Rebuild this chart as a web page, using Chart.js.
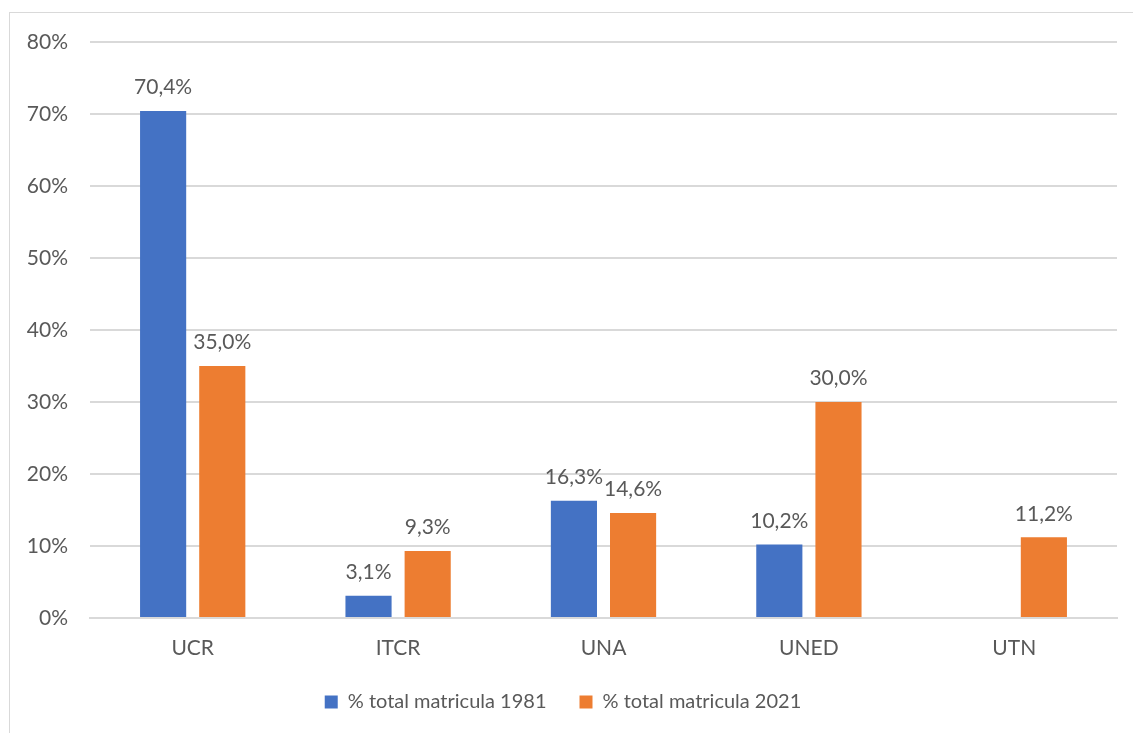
<!DOCTYPE html>
<html>
<head>
<meta charset="utf-8">
<script src="https://cdn.jsdelivr.net/npm/chart.js@4/dist/chart.umd.min.js"></script>
<style>
    html, body { margin: 0; padding: 0; background: #fff; }
    #wrap { position: relative; width: 1133px; height: 733px; overflow: hidden; }
    #frame { position: absolute; left: 9px; top: 12px; width: 1200px; height: 800px;
             border-left: 1px solid #d9d9d9; border-top: 1px solid #d9d9d9; }
    canvas { position: absolute; left: 0; top: 0; }
</style>
</head>
<body>
<div id="wrap">
    <div id="frame"></div>
    <canvas id="chart" width="1133" height="733"></canvas>
</div>
<script>
// datos
const universidades = ['UCR', 'ITCR', 'UNA', 'UNED', 'UTN'];
const matricula1981 = [70.4, 3.1, 16.3, 10.2, null];
const matricula2021 = [35.0, 9.3, 14.6, 30.0, 11.2];
const serieNombres = ['% total matricula 1981', '% total matricula 2021'];

const fuente = 'Lato, "Open Sans", sans-serif';
const gris = '#595959';
const tam = 21;

// etiquetas sobre las barras
const etiquetasPlugin = {
    id: 'etiquetas',
    afterDatasetsDraw(chart) {
        const ctx = chart.ctx;
        ctx.save();
        ctx.font = tam + 'px ' + fuente;
        ctx.fillStyle = gris;
        ctx.textAlign = 'center';
        ctx.textBaseline = 'bottom';
        chart.data.datasets.forEach((ds, i) => {
            chart.getDatasetMeta(i).data.forEach((bar, j) => {
                const v = ds.data[j];
                if (v === null) return;
                ctx.fillText(v.toFixed(1).replace('.', ',') + '%', bar.x, bar.y - 13);
            });
        });
        ctx.restore();
    }
};

new Chart(document.getElementById('chart'), {
    type: 'bar',
    data: {
        labels: universidades,
        datasets: [{
            label: serieNombres[0],
            data: matricula1981,
            backgroundColor: '#4472C4'
        }, {
            label: serieNombres[1],
            data: matricula2021,
            backgroundColor: '#ED7D31'
        }]
    },
    options: {
        responsive: false,
        animation: false,
        layout: { padding: { left: 9, right: 16, top: 42, bottom: 11 } },
        categoryPercentage: 0.576,
        barPercentage: 0.78,
        plugins: {
            legend: {
                position: 'bottom',
                labels: {
                    boxWidth: 13,
                    boxHeight: 13,
                    padding: 33,
                    color: gris,
                    font: { family: fuente, size: 20 }
                }
            },
            tooltip: { enabled: false }
        },
        scales: {
            x: {
                afterFit(s) { s.height = 41; },
                grid: { display: false, drawTicks: false },
                border: { color: '#d9d9d9', width: 2 },
                ticks: { color: gris, font: { family: fuente, size: tam }, padding: 18 }
            },
            y: {
                min: 0,
                max: 80,
                afterFit(s) { s.width = 81; },
                border: { display: false },
                grid: { color: '#d9d9d9', lineWidth: 2, drawTicks: false },
                ticks: {
                    stepSize: 10,
                    padding: 22,
                    color: gris,
                    font: { family: fuente, size: tam },
                    callback: v => v + '%'
                }
            }
        }
    },
    plugins: [etiquetasPlugin]
});
</script>
</body>
</html>
